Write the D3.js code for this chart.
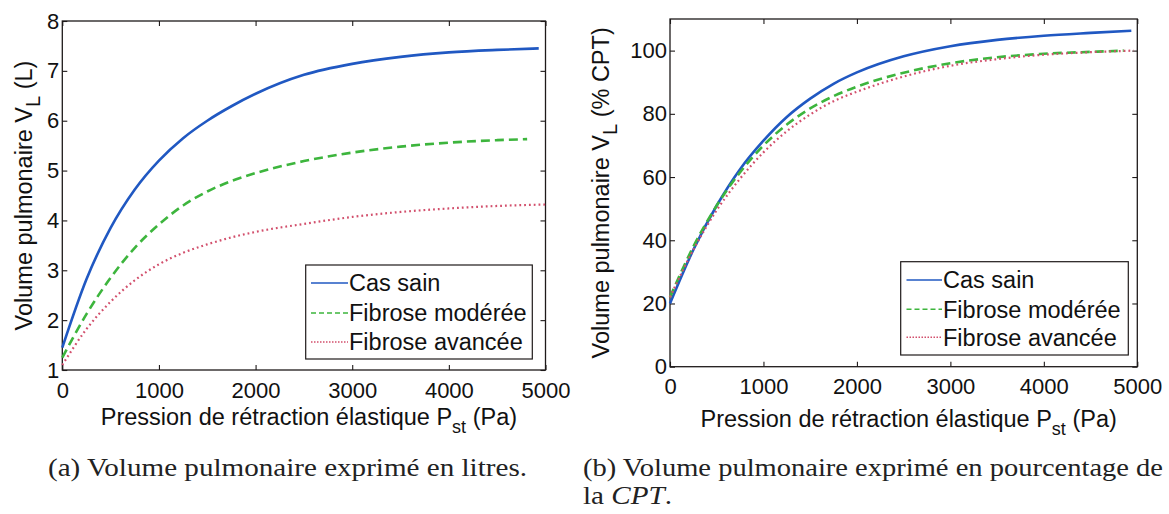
<!DOCTYPE html>
<html>
<head>
<meta charset="utf-8">
<script src="https://cdn.jsdelivr.net/npm/d3@7"></script>
<style>
html,body{margin:0;padding:0;background:#fff;}
svg{display:block;}
</style>
</head>
<body>
<svg id="chart" width="1169" height="514"></svg>
<script>
// ---------------- DATA ----------------
const seriesNames = ["Cas sain", "Fibrose modérée", "Fibrose avancée"];

// (a) volume in litres
const pressionSainL     = [0, 250, 500, 750, 1000, 1250, 1500, 1750, 2000, 2500, 3000, 3500, 4000, 4500, 4930];
const volumeSainL       = [1.45, 2.82, 3.85, 4.62, 5.20, 5.65, 6.00, 6.29, 6.54, 6.92, 7.14, 7.28, 7.37, 7.42, 7.45];
const pressionModereeL  = [0, 250, 500, 750, 1000, 1250, 1500, 1750, 2000, 2500, 3000, 3500, 4000, 4500, 4810];
const volumeModereeL    = [1.25, 2.12, 2.85, 3.45, 3.92, 4.30, 4.58, 4.79, 4.95, 5.19, 5.36, 5.48, 5.56, 5.61, 5.63];
const pressionAvanceeL  = [0, 250, 500, 750, 1000, 1250, 1500, 1750, 2000, 2500, 3000, 3500, 4000, 4500, 5000];
const volumeAvanceeL    = [1.10, 1.82, 2.37, 2.80, 3.12, 3.35, 3.52, 3.66, 3.77, 3.93, 4.07, 4.17, 4.24, 4.29, 4.32];

// (b) volume in % CPT
const pressionSainP     = [0, 250, 500, 750, 1000, 1250, 1500, 1750, 2000, 2500, 3000, 3500, 4000, 4500, 4936];
const volumeSainP       = [20, 37, 51, 62.5, 71.5, 79, 84.8, 89.5, 93.1, 98.2, 101.4, 103.4, 104.7, 105.6, 106.3];
const pressionModereeP  = [0, 250, 500, 750, 1000, 1250, 1500, 1750, 2000, 2500, 3000, 3500, 4000, 4500, 4855];
const volumeModereeP    = [22, 38, 51, 61.5, 70, 76.6, 81.7, 85.6, 88.6, 93.0, 96.0, 97.9, 99.0, 99.6, 100];
const pressionAvanceeP  = [0, 250, 500, 750, 1000, 1250, 1500, 1750, 2000, 2500, 3000, 3500, 4000, 4500, 4960];
const volumeAvanceeP    = [22, 37, 49.5, 59.5, 67.8, 74.5, 79.8, 84, 87, 91.8, 95.2, 97.3, 98.7, 99.5, 100];

const xTicks  = [0, 1000, 2000, 3000, 4000, 5000];
const yTicksL = [1, 2, 3, 4, 5, 6, 7, 8];
const yTicksP = [0, 20, 40, 60, 80, 100];

const xLabelMain = "Pression de rétraction élastique P";
const xLabelSub = "st";
const xLabelEnd = " (Pa)";
const yLabelMain = "Volume pulmonaire V";
const yLabelSub = "L";
const yLabelEndL = " (L)";
const yLabelEndP = " (% CPT)";
const captionA = "(a) Volume pulmonaire exprimé en litres.";
const captionB1 = "(b) Volume pulmonaire exprimé en pourcentage de";
const captionB2a = "la ";
const captionB2b = "CPT";
const captionB2c = ".";

// ---------------- STYLE ----------------
const FONT = "'Liberation Sans', Arial, Helvetica, sans-serif";
const SERIF = "'Liberation Serif', 'Times New Roman', serif";
const AX = "#1e1a1a";
const styles = [
  {color: "#2058c2", width: 2.6, dash: null, legDash: null, cap: "butt"},
  {color: "#3db53d", width: 2.6, dash: "9,5", legDash: "5,3", cap: "butt"},
  {color: "#d24f6c", width: 2.2, dash: "1.8,3", legDash: "1.5,1.5", cap: "butt"}
];

const svg = d3.select("#chart");

function panel(cfg) {
  const x = d3.scaleLinear().domain([0, 5000]).range([cfg.x0, cfg.x1]);
  const y = d3.scaleLinear().domain(cfg.yDomain).range([cfg.y1, cfg.y0]);
  const g = svg.append("g");

  const styleAxis = sel => {
    sel.select(".domain").remove();
    sel.selectAll(".tick line").attr("stroke", AX).attr("stroke-width", 1.1);
    sel.selectAll("text").attr("fill", "#111").style("font-family", FONT).style("font-size", "22px");
  };

  g.append("g").attr("transform", `translate(0,${cfg.y1})`)
    .call(d3.axisBottom(x).tickValues(xTicks).tickFormat(d3.format("d")).tickSizeInner(-5).tickSizeOuter(0).tickPadding(12))
    .call(styleAxis);
  g.append("g").attr("transform", `translate(0,${cfg.y0})`)
    .call(d3.axisTop(x).tickValues(xTicks).tickFormat("").tickSizeInner(-5).tickSizeOuter(0))
    .call(styleAxis);
  g.append("g").attr("transform", `translate(${cfg.x0},0)`)
    .call(d3.axisLeft(y).tickValues(cfg.yTicks).tickFormat(d3.format("d")).tickSizeInner(-5).tickSizeOuter(0).tickPadding(3))
    .call(styleAxis);
  g.append("g").attr("transform", `translate(${cfg.x1},0)`)
    .call(d3.axisRight(y).tickValues(cfg.yTicks).tickFormat("").tickSizeInner(-5).tickSizeOuter(0))
    .call(styleAxis);

  g.append("rect").attr("x", cfg.x0).attr("y", cfg.y0)
    .attr("width", cfg.x1 - cfg.x0).attr("height", cfg.y1 - cfg.y0)
    .attr("fill", "none").attr("stroke", AX).attr("stroke-width", 1.3);

  const line = d3.line().x(d => x(d[0])).y(d => y(d[1])).curve(d3.curveMonotoneX);
  cfg.series.forEach((s, i) => {
    const pts = s.x.map((v, j) => [v, s.y[j]]);
    g.append("path").datum(pts).attr("d", line)
      .attr("fill", "none").attr("stroke", styles[i].color)
      .attr("stroke-width", styles[i].width)
      .attr("stroke-dasharray", styles[i].dash)
      .attr("stroke-linecap", styles[i].cap);
  });

  // x label
  const xl = g.append("text").attr("x", (cfg.x0 + cfg.x1) / 2 + 5).attr("y", cfg.xLabelY)
    .attr("text-anchor", "middle").style("font-family", FONT).style("font-size", "23.5px").attr("fill", "#111");
  xl.append("tspan").text(xLabelMain);
  xl.append("tspan").attr("dy", 8).style("font-size", "18px").text(xLabelSub);
  xl.append("tspan").attr("dy", -8).text(xLabelEnd);

  // y label
  const yc = (cfg.y0 + cfg.y1) / 2;
  const yl = g.append("text").attr("transform", `translate(${cfg.yLabelX},${yc}) rotate(-90)`)
    .attr("text-anchor", "middle").style("font-family", FONT).style("font-size", "23.5px").attr("fill", "#111");
  yl.append("tspan").text(yLabelMain);
  yl.append("tspan").attr("dy", 8).style("font-size", "20px").text(yLabelSub);
  yl.append("tspan").attr("dy", -8).text(cfg.yLabelEnd);

  // legend
  const L = cfg.legend;
  const lg = g.append("g");
  lg.append("rect").attr("x", L.x).attr("y", L.y).attr("width", L.w).attr("height", L.h)
    .attr("fill", "#fff").attr("stroke", AX).attr("stroke-width", 1.2);
  seriesNames.forEach((name, i) => {
    const ry = L.rows[i];
    lg.append("line").attr("x1", L.lx0).attr("x2", L.lx1).attr("y1", ry).attr("y2", ry)
      .attr("stroke", styles[i].color).attr("stroke-width", 1.5)
      .attr("stroke-dasharray", styles[i].legDash);
    lg.append("text").attr("x", L.tx).attr("y", ry).attr("dy", "0.35em")
      .style("font-family", FONT).style("font-size", "23.5px").attr("fill", "#111").text(name);
  });
}

panel({
  x0: 62.3, x1: 545.5, y0: 21, y1: 370, yDomain: [1, 8], yTicks: yTicksL,
  yLabelX: 31.5, yLabelEnd: yLabelEndL, xLabelY: 425,
  series: [
    {x: pressionSainL, y: volumeSainL},
    {x: pressionModereeL, y: volumeModereeL},
    {x: pressionAvanceeL, y: volumeAvanceeL}
  ],
  legend: {x: 305.7, y: 265, w: 226.6, h: 94, rows: [283, 313, 342], lx0: 311, lx1: 348, tx: 349}
});

panel({
  x0: 670, x1: 1137.3, y0: 19, y1: 366.7, yDomain: [0, 110], yTicks: yTicksP,
  yLabelX: 609, yLabelEnd: yLabelEndP, xLabelY: 426.5,
  series: [
    {x: pressionSainP, y: volumeSainP},
    {x: pressionModereeP, y: volumeModereeP},
    {x: pressionAvanceeP, y: volumeAvanceeP}
  ],
  legend: {x: 900.7, y: 261.7, w: 227.6, h: 93.3, rows: [280, 309.3, 337.3], lx0: 906.5, lx1: 942, tx: 943}
});

// captions (serif, stretched horizontally to mimic the wider LaTeX face)
const capA = svg.append("text").attr("x", 48).attr("y", 476).style("font-family", SERIF).style("font-size", "24.5px")
  .attr("fill", "#222").text(captionA);
const natA = capA.node().getComputedTextLength();
const stretch = 479 / natA;
capA.attr("textLength", 479).attr("lengthAdjust", "spacingAndGlyphs");
svg.append("text").attr("x", 583).attr("y", 476).style("font-family", SERIF).style("font-size", "24.5px")
  .attr("fill", "#222").attr("textLength", 580).attr("lengthAdjust", "spacingAndGlyphs").text(captionB1);
const c2 = svg.append("text").attr("x", 583).attr("y", 504).style("font-family", SERIF).style("font-size", "24.5px").attr("fill", "#222");
c2.append("tspan").text(captionB2a);
c2.append("tspan").style("font-style", "italic").text(captionB2b);
c2.append("tspan").text(captionB2c);
const natC = c2.node().getComputedTextLength();
c2.attr("textLength", natC * stretch).attr("lengthAdjust", "spacingAndGlyphs");
</script>
</body>
</html>
